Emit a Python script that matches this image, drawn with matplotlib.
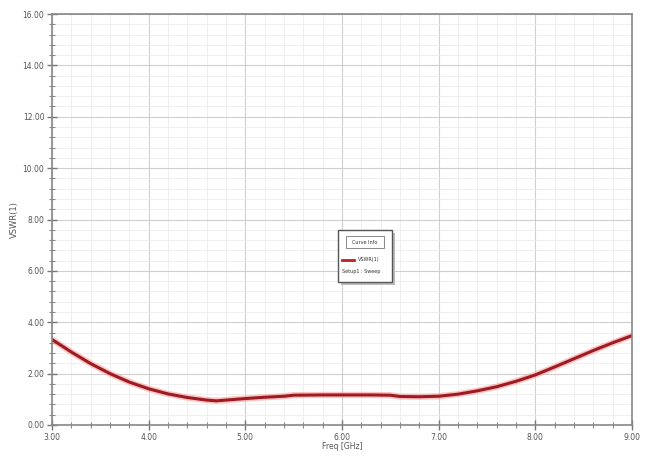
import matplotlib
matplotlib.use("Agg")
import matplotlib.pyplot as plt
from matplotlib.ticker import MultipleLocator, FormatStrFormatter

freq = [3.0, 3.2, 3.4, 3.6, 3.8, 4.0, 4.2, 4.4, 4.6, 4.7, 4.8, 5.0, 5.2, 5.4, 5.5,
        5.8, 6.0, 6.3, 6.5, 6.6, 6.8, 7.0, 7.2, 7.4, 7.6, 7.8, 8.0, 8.2, 8.4, 8.6, 8.8, 9.0]
vswr = [3.33, 2.84, 2.39, 2.00, 1.67, 1.41, 1.21, 1.07, 0.97, 0.94, 0.97, 1.03, 1.08, 1.12, 1.16,
        1.17, 1.17, 1.17, 1.16, 1.11, 1.10, 1.12, 1.20, 1.33, 1.49, 1.70, 1.95, 2.26, 2.58, 2.90, 3.20, 3.48]
x_ticks = [3.0, 4.0, 5.0, 6.0, 7.0, 8.0, 9.0]
y_ticks = [0.0, 2.0, 4.0, 6.0, 8.0, 10.0, 12.0, 14.0, 16.0]

fig = plt.figure(figsize=(6.51, 4.57), dpi=100)
ax = fig.add_axes([52/651, 32/457, 580/651, 411/457])

ax.set_xlim(3.0, 9.0)
ax.set_ylim(0.0, 16.0)
ax.set_xticks(x_ticks)
ax.set_yticks(y_ticks)
ax.xaxis.set_minor_locator(MultipleLocator(0.2))
ax.yaxis.set_minor_locator(MultipleLocator(0.4))
ax.xaxis.set_major_formatter(FormatStrFormatter('%.2f'))
ax.yaxis.set_major_formatter(FormatStrFormatter('%.2f'))

ax.grid(which='major', color='#cfcfcf', linewidth=0.8)
ax.grid(which='minor', color='#ececec', linewidth=0.6)
ax.set_axisbelow(True)

for s in ax.spines.values():
    s.set_color('#888888')
    s.set_linewidth(1.2)

ax.tick_params(which='major', direction='inout', length=7, width=1, color='#777777',
               labelsize=5.5, labelcolor='#555555', pad=2)
ax.tick_params(which='minor', direction='inout', length=4, width=0.8, color='#888888')

ax.plot(freq, vswr, color='#ff9a9a', linewidth=4.5, alpha=0.6, solid_capstyle='round')
ax.plot(freq, vswr, color='#9c1c24', linewidth=2.2, solid_capstyle='round')

ax.set_xlabel('Freq [GHz]', fontsize=5.5, color='#555555', labelpad=0)
ax.set_ylabel('VSWR(1)', fontsize=6, color='#555555', labelpad=3)

# Curve info legend box
lx0, ly0, lw, lh = 338/651, (457-282)/457, 54/651, 52/457
shadow = plt.Rectangle((lx0+3/651, ly0-3/457), lw, lh, transform=fig.transFigure,
                       facecolor='#bbbbbb', edgecolor='none', zorder=5)
box = plt.Rectangle((lx0, ly0), lw, lh, transform=fig.transFigure,
                    facecolor='white', edgecolor='#555555', linewidth=1.0, zorder=6)
fig.patches.extend([shadow, box])
inner = plt.Rectangle((lx0+8/651, ly0+34/457), 38/651, 12/457, transform=fig.transFigure,
                      facecolor='white', edgecolor='#777777', linewidth=0.6, zorder=7)
fig.patches.append(inner)
fig.text(lx0+lw/2, ly0+40/457, 'Curve Info', fontsize=3.5, ha='center', va='center',
         color='#333333', zorder=8)
fig.lines.append(plt.Line2D([lx0+4/651, lx0+16/651], [ly0+22/457, ly0+22/457],
                            transform=fig.transFigure, color='#c02020', linewidth=2, zorder=8))
fig.text(lx0+20/651, ly0+22/457, 'VSWR(1)', fontsize=3.5, ha='left', va='center',
         color='#333333', zorder=8)
fig.text(lx0+4/651, ly0+10/457, 'Setup1 : Sweep', fontsize=3.5, ha='left', va='center',
         color='#333333', zorder=8)

fig.savefig('out.png', dpi=100)
